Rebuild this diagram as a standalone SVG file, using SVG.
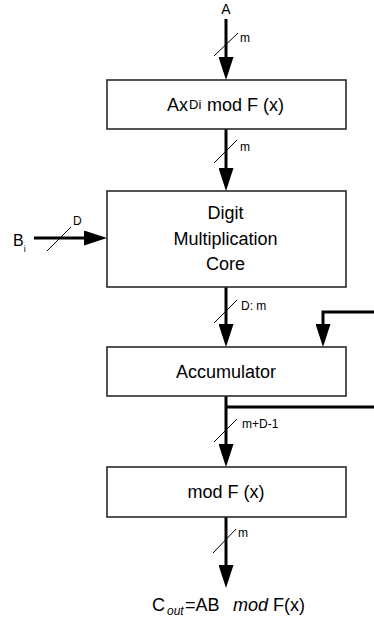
<svg xmlns="http://www.w3.org/2000/svg" width="374" height="624" viewBox="0 0 374 624">
  <style>
    .box { fill: #ffffff; stroke: #2a2a2a; stroke-width: 1.6; }
    .bus { fill: none; stroke: #000000; stroke-width: 3; }
    .slash { fill: none; stroke: #000000; stroke-width: 1; }
    .lbl { font-family: "Liberation Sans", Arial, sans-serif; font-size: 12px; fill: #000000; }
    .txt { font-family: "Liberation Sans", Arial, sans-serif; font-size: 18px; fill: #000000; text-anchor: middle; }
    .txs { font-family: "Liberation Sans", Arial, sans-serif; font-size: 18px; fill: #000000; text-anchor: start; }
    .io { font-family: "Liberation Sans", Arial, sans-serif; fill: #000000; }
  </style>
  <defs>
    <marker id="arrow" viewBox="0 0 23 15" markerWidth="23" markerHeight="15" refX="0" refY="7.5" orient="auto" markerUnits="userSpaceOnUse">
      <path d="M0,0 L23,7.5 L0,15 z" fill="#000000"/>
    </marker>
  </defs>

  <rect width="374" height="624" fill="#ffffff"/>

  <!-- buses between blocks -->
  <g id="connectors">
    <path class="bus" d="M226,19 V57" marker-end="url(#arrow)"/>
    <path class="bus" d="M226,129 V168" marker-end="url(#arrow)"/>
    <path class="bus" d="M226,287 V324" marker-end="url(#arrow)"/>
    <path class="bus" d="M374,312 H323 V324" marker-end="url(#arrow)"/>
    <path class="bus" d="M226,396 V444" marker-end="url(#arrow)"/>
    <path class="bus" d="M226,407 H374"/>
    <path class="bus" d="M226,517 V565" marker-end="url(#arrow)"/>
    <path class="bus" d="M34,238 H84" marker-end="url(#arrow)"/>

    <!-- bus-width slashes and widths -->
    <path class="slash" d="M214,56 L238,33"/>
    <text class="lbl" x="240" y="42">m</text>
    <path class="slash" d="M214,163 L237,140"/>
    <text class="lbl" x="240" y="151">m</text>
    <path class="slash" d="M214,323 L237,300"/>
    <text class="lbl" x="241" y="310">D: m</text>
    <path class="slash" d="M214,442 L237,419"/>
    <text class="lbl" x="242" y="428">m+D-1</text>
    <path class="slash" d="M213,553 L236,529"/>
    <text class="lbl" x="238" y="537">m</text>
    <path class="slash" d="M47,251 L71,227"/>
    <text class="lbl" x="73" y="225">D</text>
  </g>

  <!-- inputs and output -->
  <text class="io" x="226" y="14" font-size="14" text-anchor="middle">A</text>
  <text class="io" x="13" y="246" font-size="16">B<tspan font-size="9" dy="6">i</tspan></text>
  <g class="io" font-size="18">
    <text x="152" y="611">C</text>
    <text x="167" y="615" font-size="12" font-style="italic">out</text>
    <text x="185" y="611">=AB</text>
    <text x="233" y="611" font-style="italic">mod</text>
    <text x="273" y="611">F(x)</text>
  </g>

  <g id="pre-mod">
    <rect class="box" x="107" y="80" width="239" height="49"/>
    <text class="txs" x="167" y="111">Ax</text>
    <text class="txs" x="189" y="109" style="font-size:13px">Di</text>
    <text class="txs" x="207" y="111">mod F (x)</text>
  </g>

  <g id="core">
    <rect class="box" x="107" y="191" width="239" height="96"/>
    <text class="txt" x="225.5" y="219">Digit</text>
    <text class="txt" x="225.5" y="245">Multiplication</text>
    <text class="txt" x="225.5" y="270">Core</text>
  </g>

  <g id="accumulator">
    <rect class="box" x="107" y="347" width="239" height="49"/>
    <text class="txt" x="226" y="378">Accumulator</text>
  </g>

  <g id="reduction">
    <rect class="box" x="107" y="467" width="239" height="50"/>
    <text class="txt" x="226" y="498">mod F (x)</text>
  </g>
</svg>
